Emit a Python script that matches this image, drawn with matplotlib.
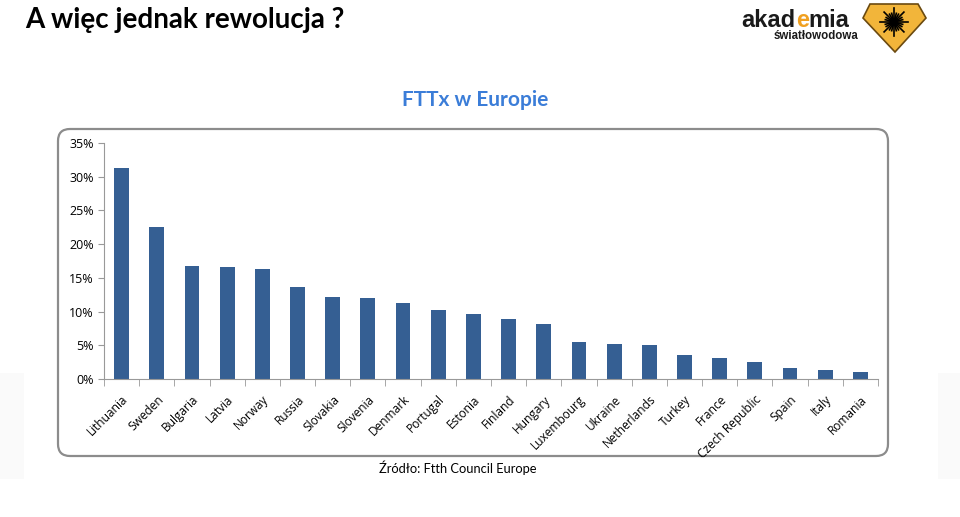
import numpy as np
import matplotlib
matplotlib.use('Agg')
import matplotlib.pyplot as plt
from matplotlib.patches import FancyBboxPatch, Polygon, Rectangle
from matplotlib.ticker import FuncFormatter, FixedLocator

# data (share of FTTx, %)
countries = ['Lithuania', 'Sweden', 'Bulgaria', 'Latvia', 'Norway', 'Russia',
             'Slovakia', 'Slovenia', 'Denmark', 'Portugal', 'Estonia', 'Finland',
             'Hungary', 'Luxembourg', 'Ukraine', 'Netherlands', 'Turkey', 'France',
             'Czech Republic', 'Spain', 'Italy', 'Romania']
share = [31.3, 22.6, 16.8, 16.6, 16.3, 13.7, 12.2, 12.0, 11.3, 10.2, 9.6, 8.9,
         8.2, 5.5, 5.2, 5.1, 3.6, 3.1, 2.5, 1.6, 1.4, 1.1]
yticks = [0, 5, 10, 15, 20, 25, 30, 35]

W, H = 960, 517
fig = plt.figure(figsize=(W / 100, H / 100), dpi=100)

# decoration layer in pixel coordinates
deco = fig.add_axes([0, 0, 1, 1], zorder=0)
deco.set_xlim(0, W)
deco.set_ylim(H, 0)
deco.axis('off')

# faint slide background panels
deco.add_patch(Rectangle((0, 373), 24, 106, color='#fafafa', lw=0))
deco.add_patch(Rectangle((938, 373), 22, 106, color='#fafafa', lw=0))

# rounded chart frame
deco.add_patch(FancyBboxPatch((61, 132), 826, 324, boxstyle='round,pad=0,rounding_size=12',
                              fc='#d8d8d8', ec='none'))
deco.add_patch(FancyBboxPatch((58, 129), 830, 327, boxstyle='round,pad=0,rounding_size=12',
                              fc='white', ec='#8c8c8c', lw=1.6))

# slide title
deco.text(25, 20, 'A więc jednak rewolucja ?', fontsize=20, fontweight='bold',
          family='Lato', va='center', ha='left', color='black')
deco.text(475, 100, 'FTTx w Europie', fontsize=15, fontweight='bold',
          family='Lato', va='center', ha='center', color='#3b7dd8')
deco.text(458, 468, 'Źródło: Ftth Council Europe', fontsize=9.3,
          family='Lato', va='center', ha='center', color='black')

# logo
logo_font = dict(fontsize=17, fontweight='bold', family='Liberation Sans', va='baseline', ha='left')
deco.text(741, 27, 'akad', color='#1a1a1a', **logo_font)
deco.text(796, 27, 'e', color='#f0a020', **logo_font)
deco.text(808, 27, 'mia', color='#1a1a1a', **logo_font)
deco.text(774, 39, 'światłowodowa', fontsize=8.3, fontweight='bold', family='Liberation Sans',
          va='baseline', ha='left', color='#1a1a1a')
deco.add_patch(Polygon([(870, 4), (918, 4), (926, 18), (895, 52), (863, 18)], closed=True,
                       fc='#f2b53a', ec='#6b4a10', lw=1.2))
cx, cy = 894, 22
for a in np.linspace(0, np.pi, 12, endpoint=False):
    r = 14 if int(round(a / (np.pi / 12))) % 3 == 0 else 9
    deco.plot([cx - r * np.cos(a), cx + r * np.cos(a)],
              [cy - r * np.sin(a), cy + r * np.sin(a)], color='black', lw=1.2)
deco.add_patch(plt.Circle((cx, cy), 3.5, color='black'))

# chart
ax = fig.add_axes([104 / W, 1 - 379 / H, 774 / W, 236 / H], zorder=1)
ax.set_facecolor('none')
x = np.arange(len(countries))
ax.bar(x, share, width=0.42, color='#355f93')
ax.set_xlim(-0.5, len(countries) - 0.5)
ax.set_ylim(0, 35)
ax.set_yticks(yticks)
ax.yaxis.set_major_formatter(FuncFormatter(lambda v, p: f'{v:.0f}%'))
ax.set_xticks(x)
ax.set_xticklabels(countries, rotation=45, ha='right', rotation_mode='anchor',
                   fontsize=8.6, family='Open Sans')
ax.xaxis.set_minor_locator(FixedLocator(np.arange(-0.5, len(countries), 1)))
ax.tick_params(axis='x', which='major', length=0, pad=10)
ax.tick_params(axis='x', which='minor', length=5, color='#999999', direction='out')
ax.tick_params(axis='y', length=4, color='#999999', labelsize=9)
for lab in ax.get_yticklabels():
    lab.set_family('Open Sans')
for s in ['top', 'right']:
    ax.spines[s].set_visible(False)
for s in ['left', 'bottom']:
    ax.spines[s].set_color('#999999')

fig.savefig('out.png', dpi=100)
